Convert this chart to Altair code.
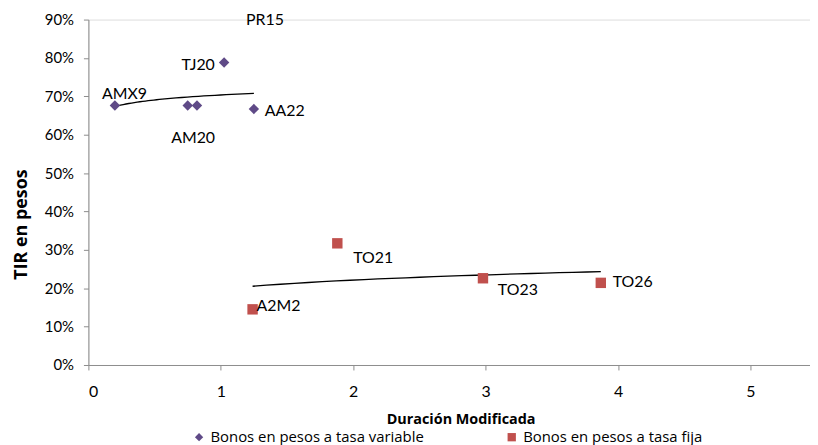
import altair as alt
import pandas as pd

# ---- data ----
SERIE_VAR = "Bonos en pesos a tasa variable"
SERIE_FIJA = "Bonos en pesos a tasa fija"

var_names = ["AMX9", "AM20a", "AM20", "TJ20", "AA22"]
var_dur = [0.20, 0.75, 0.82, 1.025, 1.25]
var_tir = [0.676, 0.676, 0.676, 0.788, 0.667]

fija_names = ["A2M2", "TO21", "TO23", "TO26"]
fija_dur = [1.24, 1.88, 2.98, 3.87]
fija_tir = [0.145, 0.317, 0.226, 0.214]

label_text = ["AMX9", "AM20", "TJ20", "AA22", "A2M2", "TO21", "TO23", "TO26", "PR15"]
label_dur = [0.20, 0.82, 1.025, 1.25, 1.24, 1.88, 2.98, 3.87, 1.19]
label_tir = [0.676, 0.676, 0.788, 0.667, 0.145, 0.317, 0.226, 0.214, 0.90]
label_dx = [-13, -26, -43, 11, 4, 16, 15, 12, 0]
label_dy = [-12, 33, 3, 2, -3, 15, 12, -1, 0]

x_ticks = [0, 1, 2, 3, 4, 5]
y_ticks = [0, 0.1, 0.2, 0.3, 0.4, 0.5, 0.6, 0.7, 0.8, 0.9]

# ---- tables ----
pts = pd.DataFrame({
    "dur": var_dur + fija_dur,
    "tir": var_tir + fija_tir,
    "serie": [SERIE_VAR] * len(var_dur) + [SERIE_FIJA] * len(fija_dur),
})

FONT = "Lato"
TFONT = "Open Sans"
x_scale = alt.Scale(domain=[0, 5.45], nice=False, zero=False)
y_scale = alt.Scale(domain=[0, 0.9], nice=False)

x_axis = alt.Axis(
    title="Duración Modificada", values=x_ticks, format="d",
    titleFont=TFONT, titleFontSize=14.5, titleFontWeight="bold", titleColor="black",
    titleX=375, titleY=55, titleAlign="center", titleBaseline="middle",
    labelFont=FONT, labelFontSize=16, labelColor="black", labelPadding=14,
    labelOverlap=False,
    tickSize=5, tickColor="#8c8c8c", domainColor="#8c8c8c", grid=False,
)
y_axis = alt.Axis(
    title="TIR en pesos", values=y_ticks, format=".0%",
    titleFont=TFONT, titleFontSize=18, titleFontWeight="bold", titleColor="black",
    titleX=-67, titleY=206, titleAlign="center", titleBaseline="middle", titleAngle=270,
    labelFont=FONT, labelFontSize=15, labelColor="black", labelPadding=10,
    labelOverlap=False,
    tickSize=5, tickColor="#8c8c8c", domainColor="#8c8c8c", grid=False,
)

def xe():
    return alt.X("dur:Q", scale=x_scale, axis=x_axis)

def ye():
    return alt.Y("tir:Q", scale=y_scale, axis=y_axis)

color_scale = alt.Scale(domain=[SERIE_VAR, SERIE_FIJA], range=["#5f4a87", "#c0504d"])
shape_scale = alt.Scale(domain=[SERIE_VAR, SERIE_FIJA], range=["diamond", "square"])

legend = alt.Legend(
    title=None, orient="none", legendX=104, legendY=413, direction="horizontal",
    columns=2, columnPadding=80, labelFont=TFONT, labelFontSize=15, labelColor="black",
    labelLimit=0, symbolSize=70, labelOffset=4, symbolStrokeWidth=0,
)

points = alt.Chart(pts).mark_point(filled=True, size=110, opacity=1).encode(
    x=xe(), y=ye(),
    color=alt.Color("serie:N", scale=color_scale, legend=legend),
    shape=alt.Shape("serie:N", scale=shape_scale, legend=legend),
)

trend = alt.Chart(pts).transform_regression(
    "dur", "tir", method="log", groupby=["serie"]
).mark_line(color="black", strokeWidth=1.3).encode(
    x=xe(), y=ye(), detail="serie:N",
)

text_layers = []
for t, xd, yt, dx, dy in zip(label_text, label_dur, label_tir, label_dx, label_dy):
    df = pd.DataFrame({"text": [t], "dur": [xd], "tir": [yt]})
    text_layers.append(
        alt.Chart(df).mark_text(
            align="left", baseline="middle", font=FONT, fontSize=16,
            color="black", dx=dx, dy=dy,
        ).encode(x=xe(), y=ye(), text="text:N")
    )

chart = alt.layer(trend, points, *text_layers).properties(
    width=727, height=348,
    autosize=alt.AutoSizeParams(type="none"),
    padding={"left": 81, "top": 10, "right": 0, "bottom": 86},
).configure_view(stroke=None).configure(background="white")

chart.save("out.html", embed_options={"renderer": "svg", "actions": False})
